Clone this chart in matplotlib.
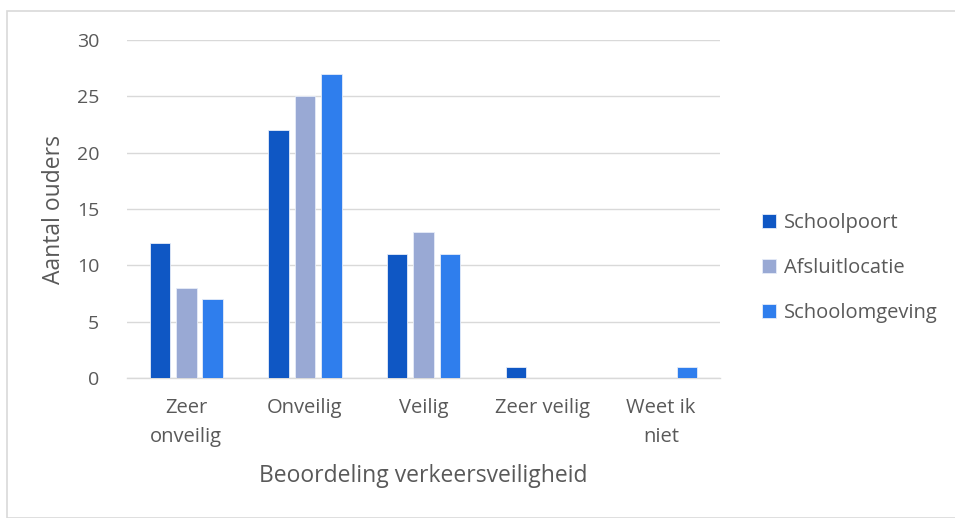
import numpy as np
import matplotlib.pyplot as plt
from matplotlib.patches import Rectangle

# Survey answers: how parents rate traffic safety around the school
categories = ["Zeer\nonveilig", "Onveilig", "Veilig", "Zeer veilig", "Weet ik\nniet"]
schoolpoort = [12, 22, 11, 1, 0]
afsluitlocatie = [8, 25, 13, 0, 0]
schoolomgeving = [7, 27, 11, 0, 1]

series = [
    ("Schoolpoort", schoolpoort, "#0F57C4"),
    ("Afsluitlocatie", afsluitlocatie, "#99A9D4"),
    ("Schoolomgeving", schoolomgeving, "#2F7EED"),
]

plt.rcParams["font.family"] = ["Open Sans", "DejaVu Sans"]
text_grey = "#595959"
grid_grey = "#D9D9D9"

fig = plt.figure(figsize=(9.55, 5.18), dpi=100)
ax = fig.add_axes([0.133, 0.27, 0.621, 0.653])

x = np.arange(len(categories))
width = 0.173
step = 0.222
for i, (name, vals, col) in enumerate(series):
    ax.bar(x + (i - 1) * step, vals, width=width, color=col, label=name,
           edgecolor="#E6ECF8", linewidth=0.6, zorder=3)

ax.set_xlim(-0.5, len(categories) - 0.5)
ax.set_ylim(0, 30)
ax.set_yticks(range(0, 31, 5))
ax.set_xticks(x)
ax.set_xticklabels(categories, fontsize=14.5, color=text_grey, linespacing=1.65)
ax.tick_params(axis="y", labelsize=14, labelcolor=text_grey, length=0, pad=20)
ax.tick_params(axis="x", length=0, pad=14)
ax.grid(axis="y", color=grid_grey, linewidth=1.0, zorder=0)
for side in ["top", "right", "left"]:
    ax.spines[side].set_visible(False)
ax.spines["bottom"].set_color(grid_grey)
ax.spines["bottom"].set_linewidth(1.0)

ax.set_ylabel("Aantal ouders", fontsize=16.5, color=text_grey, labelpad=8)
ax.set_xlabel("Beoordeling verkeersveiligheid", fontsize=16.5, color=text_grey, labelpad=12)

leg = ax.legend(loc="center left", bbox_to_anchor=(1.0, 0.325), frameon=False,
                fontsize=14.5, labelcolor=text_grey, handlelength=0.7,
                handleheight=0.7, handletextpad=0.35, labelspacing=1.25,
                borderaxespad=1.7)

# thin frame around the whole chart
fig.patches.append(Rectangle((7 / 955, 0), 1, 1 - 11 / 518, transform=fig.transFigure,
                             fill=False, edgecolor="#D9D9D9", linewidth=1.2))

fig.savefig("out.png", dpi=100)
